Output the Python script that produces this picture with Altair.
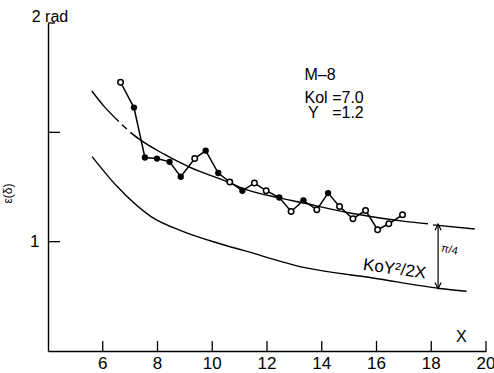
import altair as alt
import pandas as pd

FONT = "Liberation Sans"

# measured phase ε(δ) against X (open / filled symbols)
x_obs = [6.65, 7.14, 7.54, 7.98, 8.44, 8.85, 9.36, 9.76, 10.22, 10.64, 11.10, 11.54,
         11.97, 12.45, 12.88, 13.33, 13.82, 14.23, 14.65, 15.14, 15.60, 16.04, 16.45, 16.95]
eps_obs = [1.729, 1.613, 1.385, 1.380, 1.365, 1.297, 1.380, 1.416, 1.314, 1.273, 1.233, 1.268,
           1.233, 1.202, 1.138, 1.189, 1.146, 1.222, 1.161, 1.105, 1.143, 1.055, 1.082, 1.123]
filled_obs = [0, 1, 1, 1, 1, 1, 0, 1, 1, 0, 1, 0, 0, 1, 0, 1, 0, 1, 0, 0, 0, 0, 0, 0]

# upper reference curve, drawn in pieces
upper_x = [5.60, 6.04, 6.59,
           6.70, 6.88,
           7.01, 7.32, 8.24, 8.85, 9.15, 10.63, 11.09, 12.45, 13.22, 15.08, 17.03, 17.88,
           18.06, 19.59]
upper_y = [1.689, 1.620, 1.549,
           1.535, 1.515,
           1.500, 1.470, 1.400, 1.360, 1.342, 1.270, 1.245, 1.200, 1.180, 1.130, 1.093, 1.082,
           1.077, 1.058]
upper_seg = [1, 1, 1,
             2, 2,
             3, 3, 3, 3, 3, 3, 3, 3, 3, 3, 3, 3,
             4, 4]

# lower curve  K0 γ² / 2X
lower_x = [5.61, 6.52, 7.75, 8.97, 10.19, 11.14, 13.43, 15.87, 18.31, 19.29]
lower_y = [1.389, 1.253, 1.116, 1.045, 0.994, 0.960, 0.880, 0.834, 0.786, 0.773]

# π/4 gap marker between the curves
arrow_x = 18.25
arrow_top = 1.080
arrow_bottom = 0.785

x_ticks = [6, 8, 10, 12, 14, 16, 18, 20]
x_tick_labels = ["6", "8", "10", "12", "14", "16", "18", "20"]
y_ticks = [1.0, 1.5, 2.0]

X_MIN, X_MAX = 4, 20
Y_MIN, Y_MAX = 0.5, 2.0
# inward tick lengths, in data units
X_TICK_LEN = 0.046
Y_TICK_LEN = [0.44, 0.44, 0.26]

obs = pd.DataFrame({"X": x_obs, "eps": eps_obs, "filled": filled_obs,
                    "i": list(range(len(x_obs)))})
upper = pd.DataFrame({"X": upper_x, "eps": upper_y, "seg": upper_seg,
                      "i": list(range(len(upper_x)))})
lower = pd.DataFrame({"X": lower_x, "eps": lower_y, "i": list(range(len(lower_x)))})
xtick_df = pd.DataFrame({"xv": [float(v) for v in x_ticks], "lab": x_tick_labels,
                         "y0": Y_MIN, "y1": Y_MIN + X_TICK_LEN})
ytick_df = pd.DataFrame({"yv": y_ticks, "x0": float(X_MIN),
                         "x1": [X_MIN + d for d in Y_TICK_LEN]})

xs = alt.Scale(domain=[X_MIN, X_MAX], nice=False, zero=False)
ys = alt.Scale(domain=[Y_MIN, Y_MAX], nice=False, zero=False)

x_axis = alt.Axis(ticks=False, grid=False, title=None, domainColor="black",
                  domainWidth=1.4, labels=False)
y_axis = alt.Axis(values=[1], format="d", ticks=False, grid=False, title="ε(δ)",
                  domainColor="black", domainWidth=1.4, labelFontSize=17, labelFont=FONT,
                  labelColor="black", labelPadding=9, titleFont=FONT, titleFontSize=12,
                  titleFontWeight="normal", titleColor="black", titleX=-34, titleY=170)

base_x = alt.X("X:Q", scale=xs, axis=x_axis)
base_y = alt.Y("eps:Q", scale=ys, axis=y_axis)

upper_solid = alt.Chart(upper).transform_filter("datum.seg != 2").mark_line(
    color="black", strokeWidth=1.4, interpolate="monotone"
).encode(x=base_x, y=base_y, detail="seg:N", order="i:Q")

upper_dash = alt.Chart(upper).transform_filter("datum.seg == 2").mark_line(
    color="black", strokeWidth=1.4
).encode(x="X:Q", y="eps:Q", order="i:Q")

lower_line = alt.Chart(lower).mark_line(
    color="black", strokeWidth=1.4, interpolate="monotone"
).encode(x="X:Q", y="eps:Q", order="i:Q")

obs_line = alt.Chart(obs).mark_line(color="black", strokeWidth=1.5).encode(
    x="X:Q", y="eps:Q", order="i:Q")

obs_open = alt.Chart(obs).transform_filter("datum.filled == 0").mark_point(
    shape="circle", filled=True, fill="white", stroke="black", strokeWidth=1.5,
    size=30, opacity=1
).encode(x="X:Q", y="eps:Q")

obs_filled = alt.Chart(obs).transform_filter("datum.filled == 1").mark_point(
    shape="circle", filled=True, color="black", size=40, opacity=1
).encode(x="X:Q", y="eps:Q")

# inward tick marks and x tick labels
xt = alt.Chart(xtick_df).mark_rule(color="black", strokeWidth=1.3).encode(
    x="xv:Q", y="y0:Q", y2="y1:Q")

xl = alt.Chart(xtick_df).mark_text(
    font=FONT, fontSize=17, baseline="top", color="black", dy=5
).encode(x="xv:Q", y="y0:Q", text="lab:N")

yt = alt.Chart(ytick_df).mark_rule(color="black", strokeWidth=1.3).encode(
    y="yv:Q", x="x0:Q", x2="x1:Q")

# double-headed arrow
arrow_df = pd.DataFrame({"X": [arrow_x], "top": [arrow_top], "bottom": [arrow_bottom]})
arrow_rule = alt.Chart(arrow_df).mark_rule(color="black", strokeWidth=1.2).encode(
    x="X:Q", y="top:Q", y2="bottom:Q")
head_up = alt.Chart(arrow_df).mark_point(
    shape="M-0.5,1L0,0L0.5,1", filled=False, color="black", strokeWidth=1.2, size=150, opacity=1
).encode(x="X:Q", y="top:Q")
head_down = alt.Chart(arrow_df).mark_point(
    shape="M-0.5,-1L0,0L0.5,-1", filled=False, color="black", strokeWidth=1.2, size=150, opacity=1
).encode(x="X:Q", y="bottom:Q")


def label(text, x, y, size=16, align="left", angle=0, baseline="middle", dx=0, dy=0):
    df = pd.DataFrame({"X": [x], "eps": [y], "t": [text]})
    return alt.Chart(df).mark_text(
        font=FONT, fontSize=size, align=align, baseline=baseline, angle=angle,
        color="black", dx=dx, dy=dy
    ).encode(x="X:Q", y="eps:Q", text="t:N")


texts = [
    label("2 rad", 4.0, 2.0, align="center", baseline="alphabetic", dx=2, dy=-1),
    label("M–8", 13.37, 1.763),
    label("Kol", 13.37, 1.656),
    label("=7.0", 14.38, 1.656),
    label("Y", 13.50, 1.589),
    label("=1.2", 14.38, 1.589),
    label("KoY²/2X", 16.66, 0.874, size=17, align="center", angle=8),
    label("π/4", 18.66, 0.962, size=11, align="center", angle=12),
    label("X", 19.10, 0.566, align="center"),
]

chart = alt.layer(
    upper_solid, upper_dash, lower_line, obs_line, obs_open, obs_filled,
    xt, xl, yt, arrow_rule, head_up, head_down, *texts
).properties(
    width=438, height=328,
    padding={"left": 48, "top": 23, "right": 8, "bottom": 22},
    autosize=alt.AutoSizeParams(type="none"),
    background="white",
).configure_view(stroke=None)

chart.save("out.html", embed_options={"renderer": "svg", "actions": False})
